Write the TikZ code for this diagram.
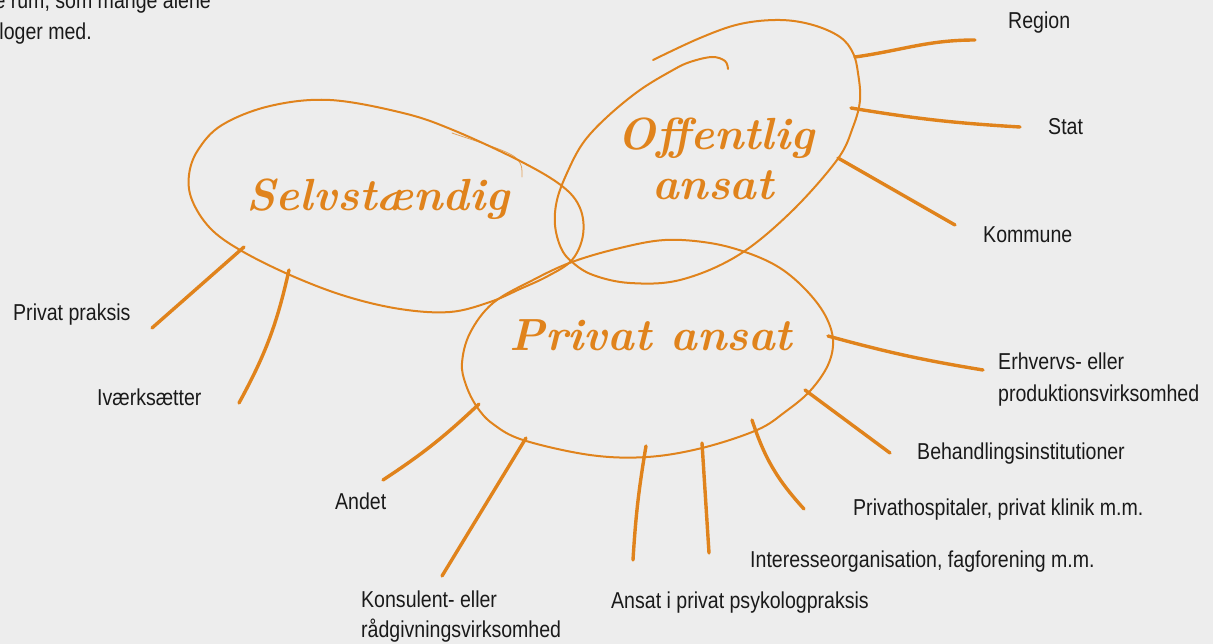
\documentclass[tikz,border=0pt]{standalone}
\usepackage{fontspec}
\setsansfont[FakeStretch=0.85]{Liberation Sans}
\usepackage{graphicx}
\definecolor{bgc}{HTML}{EDEDED}
\definecolor{org}{HTML}{E0831C}
\definecolor{txt}{HTML}{1A1A1A}
\tikzset{
  lab/.style={font=\sffamily\fontsize{23}{28}\selectfont, text=txt, inner sep=0pt, anchor=base west},
  labr/.style={lab, anchor=base east},
  hand/.style={font=\bfseries\itshape\fontsize{45}{45}\selectfont, text=org, inner sep=0pt, anchor=base},
  ring/.style={draw=org, line width=2pt, line cap=round, line join=round},
  faint/.style={draw=org, line width=0.8pt, line cap=round, opacity=0.7},
  conn/.style={draw=org, line width=3.4pt, line cap=round},
}
\begin{document}
\begin{tikzpicture}[x=1pt,y=-1pt]
\useasboundingbox (0,0) rectangle (1213,644);
\fill[bgc] (0,0) rectangle (1213,644);
\clip (0,0) rectangle (1213,644);

% top-left text fragment (cut off by the frame, as in the source)
\node[labr] (tl1) at (211,9) {e rum, som mange alene};
\node[labr] (tl2) at (92,40) {loger med.};

% Selvstaendig ellipse
\draw[ring] plot[smooth cycle, tension=0.6] coordinates {
 (330,100) (403,113) (453,130) (520,161) (562,186) (580,208) (583,235) (572,260)
 (548,276) (520,289) (490,302) (450,312) (400,309) (345,296) (290,275) (240,250)
 (210,228) (192,200) (189,175) (198,150) (222,125) (270,106)};
\draw[faint] (452,133) .. controls (490,146) and (512,152) .. (518,160) .. controls (522,166) .. (522,177);

% Offentlig ellipse (open hand stroke)
\draw[ring] plot[smooth, tension=0.6] coordinates {
 (728,69) (725,61) (712,57) (690,62) (673,70) (640,90) (607,117) (583,143) (567,173)
 (557,200) (555,225) (561,248) (572,262) (593,275) (630,283) (680,280) (737,256)
 (790,213) (837,160) (853,127) (860,100) (858,73) (853,53) (840,37) (813,25)
 (780,20) (740,24) (700,38) (653,60)};

% Privat ellipse
\draw[ring] plot[smooth cycle, tension=0.6] coordinates {
 (462,363) (470,333) (493,303) (533,280) (572,262) (620,248) (665,240) (710,243)
 (748,253) (780,268) (806,290) (825,315) (833,340) (828,365) (810,391) (785,412)
 (757,430) (702,448) (647,457) (590,455) (523,440) (493,424) (477,407) (466,385)};

% handwritten titles
\node[hand] (self) at (378,211) {Selvstændig};
\node[hand] (off1) at (716,150) {Offentlig};
\node[hand] (off2) at (713,200) {ansat};
\node[hand] (priv) at (651,350) {Privat ansat};

% connector end points
\coordinate (s-pp) at (244,247);  \coordinate (e-pp) at (152,328);
\coordinate (s-iv) at (289,270);  \coordinate (e-iv) at (239,403);
\coordinate (s-reg) at (855,57);  \coordinate (e-reg) at (975,40);
\coordinate (s-sta) at (851,108); \coordinate (e-sta) at (1020,127);
\coordinate (s-kom) at (838,158); \coordinate (e-kom) at (955,225);
\coordinate (s-erh) at (828,336); \coordinate (e-erh) at (983,370);
\coordinate (s-beh) at (805,390); \coordinate (e-beh) at (890,453);
\coordinate (s-phs) at (752,420); \coordinate (e-phs) at (804,509);
\coordinate (s-int) at (702,443); \coordinate (e-int) at (709,553);
\coordinate (s-ans) at (646,446); \coordinate (e-ans) at (633,560);
\coordinate (s-kon) at (526,438); \coordinate (e-kon) at (442,576);
\coordinate (s-and) at (479,404); \coordinate (e-and) at (383,480);

% connectors
\draw[conn] (s-pp) -- (e-pp);
\draw[conn] (s-iv) to[bend left=8] (e-iv);
\draw[conn] (s-reg) to[out=8, in=180] (e-reg);
\draw[conn] (s-sta) to[bend right=3] (e-sta);
\draw[conn] (s-kom) -- (e-kom);
\draw[conn] (s-erh) to[bend right=3] (e-erh);
\draw[conn] (s-beh) -- (e-beh);
\draw[conn] (s-phs) to[bend right=12] (e-phs);
\draw[conn] (s-int) -- (e-int);
\draw[conn] (s-ans) to[bend right=3] (e-ans);
\draw[conn] (s-kon) -- (e-kon);
\draw[conn] (s-and) to[bend left=5] (e-and);

% labels
\node[lab] (l-reg) at (1008,29) {Region};
\node[lab] (l-sta) at (1048,135) {Stat};
\node[lab] (l-kom) at (983,243) {Kommune};
\node[lab] (l-erh1) at (998,369) {Erhvervs- eller};
\node[lab] (l-erh2) at (998,401) {produktionsvirksomhed};
\node[lab] (l-beh) at (917,459) {Behandlingsinstitutioner};
\node[lab] (l-phs) at (853,515) {Privathospitaler, privat klinik m.m.};
\node[lab] (l-int) at (750,567) {Interesseorganisation, fagforening m.m.};
\node[lab] (l-ans) at (611,608) {Ansat i privat psykologpraksis};
\node[lab] (l-kon1) at (361,607) {Konsulent- eller};
\node[lab] (l-kon2) at (361,637) {rådgivningsvirksomhed};
\node[lab] (l-and) at (335,509) {Andet};
\node[lab] (l-pp) at (13,320) {Privat praksis};
\node[lab] (l-iv) at (97,405) {Iværksætter};
\end{tikzpicture}
\end{document}
